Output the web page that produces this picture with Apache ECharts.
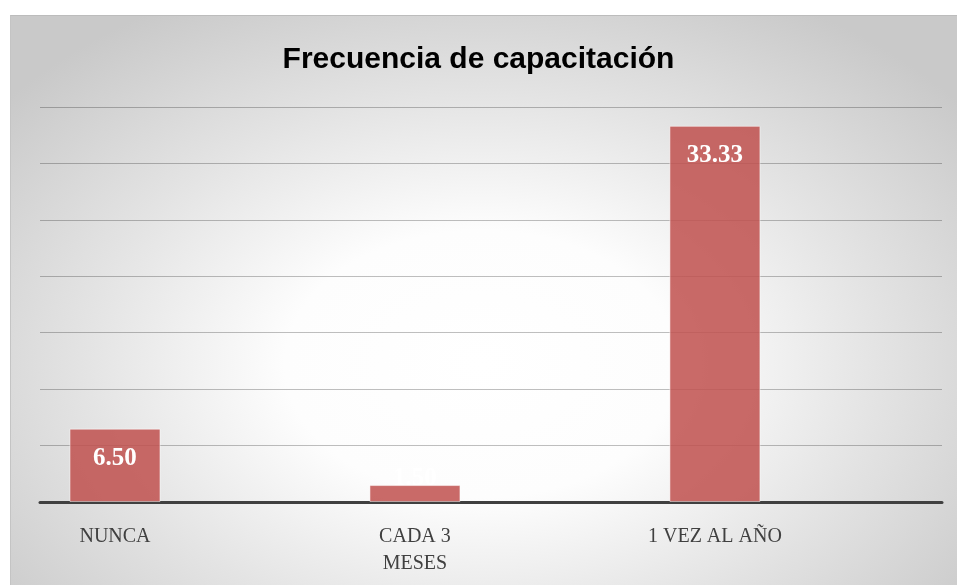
<!DOCTYPE html>
<html>
<head>
<meta charset="utf-8">
<script src="https://cdn.jsdelivr.net/npm/echarts@6/dist/echarts.min.js"></script>
<style>
  html, body { margin: 0; padding: 0; background: #fff; }
  .wrap { position: relative; width: 957px; height: 585px; overflow: hidden; }
  .bg {
    position: absolute; left: 10px; top: 15px; width: 960px; height: 580px;
    background: radial-gradient(ellipse 64% 72% at 49% 60%, #ffffff 0%, #fdfdfd 32%, #e4e4e4 64%, #c9c9c9 100%);
    border-top: 1px solid #bcbcbc;
    border-left: 1px solid #c4c4c4;
  }
  #chart { position: absolute; left: 0; top: 0; width: 957px; height: 585px; }
</style>
</head>
<body>
<div class="wrap">
  <div class="bg"></div>
  <div id="chart"></div>
</div>
<script>
const titleText = 'Frecuencia de capacitación'
const categories = ['NUNCA', 'CADA 3\nMESES', '1 VEZ AL AÑO']
const values = [6.5, 1.5, 33.33]
const yTicks = [0, 5, 10, 15, 20, 25, 30, 35]

let chart = echarts.init(document.getElementById('chart'))

// bars sit at x = 0, 1, 2 on a value axis so they can be offset inside the plot
let barData = values.map((v, i) => {
  let item = { value: [i, v] }
  if (v < 3) {
    // short bar: label pushed up out of the bar like the original
    item.label = { position: 'insideBottom', distance: 11 }
  }
  return item
})

chart.setOption({
  backgroundColor: 'transparent',
  title: {
    text: titleText,
    left: 'center',
    top: 40,
    textStyle: {
      fontFamily: 'Liberation Sans',
      fontWeight: 'bold',
      fontSize: 30,
      color: '#000',
    },
  },
  grid: {
    left: 40,
    right: 15,
    top: 107,
    bottom: 83,
  },
  xAxis: {
    type: 'value',
    min: -0.25,
    max: 2.757,
    splitLine: { show: false },
    axisTick: { show: false },
    axisLine: {
      show: true,
      onZero: false,
      lineStyle: { color: '#404040', width: 3 },
    },
    axisLabel: {
      customValues: [0, 1, 2],
      formatter: (v) => categories[Math.round(v)] || '',
      fontFamily: 'Liberation Serif',
      fontSize: 20,
      lineHeight: 27,
      color: '#404040',
      margin: 21,
    },
  },
  yAxis: {
    type: 'value',
    min: yTicks[0],
    max: yTicks[yTicks.length - 1],
    interval: 5,
    axisLabel: { show: false },
    axisTick: { show: false },
    axisLine: { show: false },
    splitLine: {
      lineStyle: { color: 'rgba(0,0,0,0.25)', width: 1 },
    },
  },
  series: [
    {
      type: 'bar',
      data: barData,
      barWidth: 91,
      itemStyle: {
        color: 'rgba(192,80,77,0.85)',
        borderColor: 'rgba(255,255,255,0.5)',
        borderWidth: 1,
      },
      label: {
        show: true,
        position: 'insideTop',
        distance: 17,
        formatter: (p) => p.value[1].toFixed(2),
        fontFamily: 'Liberation Serif',
        fontWeight: 'bold',
        fontSize: 25,
        color: '#fff',
      },
    },
  ],
})
</script>
</body>
</html>
